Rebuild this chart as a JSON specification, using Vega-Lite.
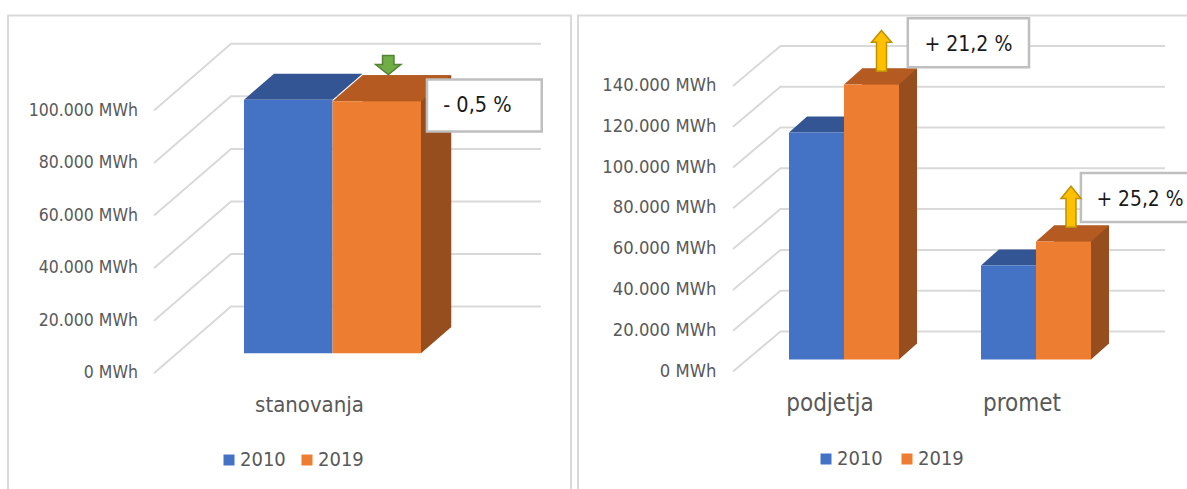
{"$schema":"https://vega.github.io/schema/vega-lite/v6.json","padding":{"left":7,"top":11.5,"right":0,"bottom":0},"background":"white","bounds":"flush","spacing":7,"config":{"view":{"stroke":"#D9D9D9","strokeWidth":2},"font":"DejaVu Sans Condensed"},"datasets":{"bars":[{"sector":"stanovanja","year":"2010","mwh":96500,"change":""},{"sector":"stanovanja","year":"2019","mwh":95900,"change":"- 0,5 %"},{"sector":"podjetja","year":"2010","mwh":111300,"change":""},{"sector":"podjetja","year":"2019","mwh":134800,"change":"+ 21,2 %"},{"sector":"promet","year":"2010","mwh":46100,"change":""},{"sector":"promet","year":"2019","mwh":57800,"change":"+ 25,2 %"}]},"resolve":{"scale":{"color":"independent","xOffset":"independent"},"legend":{"color":"independent"}},"hconcat":[{"width":563,"height":480,"data":{"name":"bars"},"transform":[{"filter":"datum.sector==='stanovanja'"}],"layer":[{"data":{"values":[{"tick":0,"label":"0 MWh"},{"tick":20000,"label":"20.000 MWh"},{"tick":40000,"label":"40.000 MWh"},{"tick":60000,"label":"60.000 MWh"},{"tick":80000,"label":"80.000 MWh"},{"tick":100000,"label":"100.000 MWh"}]},"encoding":{"y":{"field":"tick","type":"quantitative","scale":{"domain":[0,100000],"range":[337.7,75],"nice":false,"zero":false},"axis":null}},"layer":[{"mark":{"type":"point","shape":"M-135.5,20 L-58.5,-46.7 L251.5,-46.7","size":4,"filled":false,"stroke":"#D9D9D9","strokeWidth":2,"opacity":1}},{"mark":{"type":"text","align":"right","baseline":"middle","dx":-151.5,"dy":20,"fontSize":17.5,"color":"#595959"},"encoding":{"text":{"field":"label"}}}]},{"encoding":{"x":{"field":"sector","type":"nominal","scale":{"type":"band","range":[236,413],"paddingInner":0,"paddingOuter":0},"axis":{"title":null,"domain":false,"ticks":false,"grid":false,"labelAngle":0,"labelPadding":-91.5,"labelBaseline":"middle","labelOffset":-23,"labelFontSize":22,"labelColor":"#595959"}},"xOffset":{"field":"year","type":"nominal","scale":{"paddingInner":0,"paddingOuter":0}},"y":{"field":"mwh","type":"quantitative","scale":{"domain":[0,100000],"range":[337.7,75],"nice":false,"zero":false},"axis":null}},"layer":[{"transform":[{"filter":"datum.year==='2019'"}],"mark":{"type":"bar","color":"#974E1E","width":88.5,"yOffset":-26},"encoding":{"xOffset":{"value":163}}},{"transform":[{"filter":"datum.year==='2019'"}],"mark":{"type":"point","shape":"M44.25,0 L74.25,-26 L74.25,-27 L44.25,-27 Z","size":4,"filled":true,"color":"#974E1E","opacity":1},"encoding":{"y":{"datum":0,"type":"quantitative","axis":null}}},{"mark":{"type":"point","shape":"M-44.25,0 L44.25,0 L74.25,-26 L-14.25,-26 Z","size":4,"filled":true,"opacity":1},"encoding":{"fill":{"condition":{"test":"datum.year==='2019'","value":"#B55B22"},"value":"#345593"}}},{"mark":{"type":"bar"},"encoding":{"color":{"field":"year","type":"nominal","scale":{"domain":["2010","2019"],"range":["#4472C4","#ED7D31"]},"legend":{"orient":"none","legendX":211,"legendY":434.5,"direction":"horizontal","title":null,"symbolType":"square","symbolSize":121,"symbolStrokeWidth":0,"labelFontSize":20,"labelColor":"#595959","labelOffset":1,"columnPadding":11}}}},{"transform":[{"filter":"datum.year==='2019'"}],"mark":{"type":"point","shape":"M50.2,-21.7 L165,-21.7 L165,30.3 L50.2,30.3 Z","size":4,"filled":true,"fill":"white","stroke":"#BFBFBF","strokeWidth":2.5,"opacity":1}},{"transform":[{"filter":"datum.year==='2019'"}],"mark":{"type":"text","align":"left","baseline":"middle","dx":66.5,"dy":4.5,"fontSize":21.5,"color":"#1a1a1a"},"encoding":{"text":{"field":"change"}}},{"transform":[{"filter":"datum.year==='2019'"}],"mark":{"type":"point","shape":"M11.5,-26.7 L24.1,-36.7 L17.2,-36.7 L17.2,-45.7 L5.8,-45.7 L5.8,-36.7 L-1.1,-36.7 Z","size":4,"filled":true,"fill":"#70AD47","stroke":"#548235","strokeWidth":1.5,"opacity":1}}]}]},{"width":612,"height":480,"data":{"name":"bars"},"transform":[{"filter":"datum.sector!=='stanovanja'"}],"layer":[{"data":{"values":[{"tick":0,"label":"0 MWh"},{"tick":20000,"label":"20.000 MWh"},{"tick":40000,"label":"40.000 MWh"},{"tick":60000,"label":"60.000 MWh"},{"tick":80000,"label":"80.000 MWh"},{"tick":100000,"label":"100.000 MWh"},{"tick":120000,"label":"120.000 MWh"},{"tick":140000,"label":"140.000 MWh"}]},"encoding":{"y":{"field":"tick","type":"quantitative","scale":{"domain":[0,140000],"range":[344,58.4],"nice":false,"zero":false},"axis":null}},"layer":[{"mark":{"type":"point","shape":"M-151,12 L-103.5,-28 L281,-28","size":4,"filled":false,"stroke":"#D9D9D9","strokeWidth":2,"opacity":1}},{"mark":{"type":"text","align":"right","baseline":"middle","dx":-167.6,"dy":12,"fontSize":18.3,"color":"#595959"},"encoding":{"text":{"field":"label"}}}]},{"encoding":{"x":{"field":"sector","type":"nominal","scale":{"type":"band","domain":["podjetja","promet"],"range":[211,513],"paddingInner":0.427,"paddingOuter":0},"axis":{"title":null,"domain":false,"ticks":false,"grid":false,"labelAngle":0,"labelPadding":-92,"labelBaseline":"middle","labelOffset":-14,"labelFontSize":24,"labelColor":"#595959"}},"xOffset":{"field":"year","type":"nominal","scale":{"paddingInner":0,"paddingOuter":0}},"y":{"field":"mwh","type":"quantitative","scale":{"domain":[0,140000],"range":[344,58.4],"nice":false,"zero":false},"axis":null}},"layer":[{"transform":[{"filter":"datum.year==='2019'"}],"mark":{"type":"bar","color":"#974E1E","width":55,"yOffset":-16},"encoding":{"xOffset":{"value":100.5}}},{"transform":[{"filter":"datum.year==='2019'"}],"mark":{"type":"point","shape":"M27.5,0 L45.5,-16 L45.5,-17 L27.5,-17 Z","size":4,"filled":true,"color":"#974E1E","opacity":1},"encoding":{"y":{"datum":0,"type":"quantitative","axis":null}}},{"mark":{"type":"point","shape":"M-27.5,0 L27.5,0 L45.5,-16 L-9.5,-16 Z","size":4,"filled":true,"opacity":1},"encoding":{"fill":{"condition":{"test":"datum.year==='2019'","value":"#B55B22"},"value":"#345593"}}},{"mark":{"type":"bar"},"encoding":{"color":{"field":"year","type":"nominal","scale":{"domain":["2010","2019"],"range":["#4472C4","#ED7D31"]},"legend":{"orient":"none","legendX":238,"legendY":433.5,"direction":"horizontal","title":null,"symbolType":"square","symbolSize":121,"symbolStrokeWidth":0,"labelFontSize":20,"labelColor":"#595959","labelOffset":1,"columnPadding":14}}}},{"transform":[{"filter":"datum.sector==='podjetja' && datum.year==='2019'"}],"mark":{"type":"point","shape":"M36.3,-66.3 L157.5,-66.3 L157.5,-17.3 L36.3,-17.3 Z","size":4,"filled":true,"fill":"white","stroke":"#BFBFBF","strokeWidth":2.5,"opacity":1}},{"transform":[{"filter":"datum.sector==='podjetja' && datum.year==='2019'"}],"mark":{"type":"text","align":"left","baseline":"middle","dx":53,"dy":-40,"fontSize":21,"color":"#1a1a1a"},"encoding":{"text":{"field":"change"}}},{"transform":[{"filter":"datum.sector==='podjetja' && datum.year==='2019'"}],"mark":{"type":"point","shape":"M10,-54 L20,-42.3 L15,-42.3 L15,-13.3 L5,-13.3 L5,-42.3 L0,-42.3 Z","size":4,"filled":true,"fill":"#FFC000","stroke":"#BF9000","strokeWidth":1.5,"opacity":1}},{"transform":[{"filter":"datum.sector==='promet' && datum.year==='2019'"}],"mark":{"type":"point","shape":"M17.4,-68.7 L140,-68.7 L140,-19.7 L17.4,-19.7 Z","size":4,"filled":true,"fill":"white","stroke":"#BFBFBF","strokeWidth":2.5,"opacity":1}},{"transform":[{"filter":"datum.sector==='promet' && datum.year==='2019'"}],"mark":{"type":"text","align":"left","baseline":"middle","dx":33,"dy":-41.5,"fontSize":20.8,"color":"#1a1a1a"},"encoding":{"text":{"field":"change"}}},{"transform":[{"filter":"datum.sector==='promet' && datum.year==='2019'"}],"mark":{"type":"point","shape":"M7.5,-55.3 L17.5,-43 L12.5,-43 L12.5,-14.3 L2.5,-14.3 L2.5,-43 L-2.5,-43 Z","size":4,"filled":true,"fill":"#FFC000","stroke":"#BF9000","strokeWidth":1.5,"opacity":1}}]}]}]}
